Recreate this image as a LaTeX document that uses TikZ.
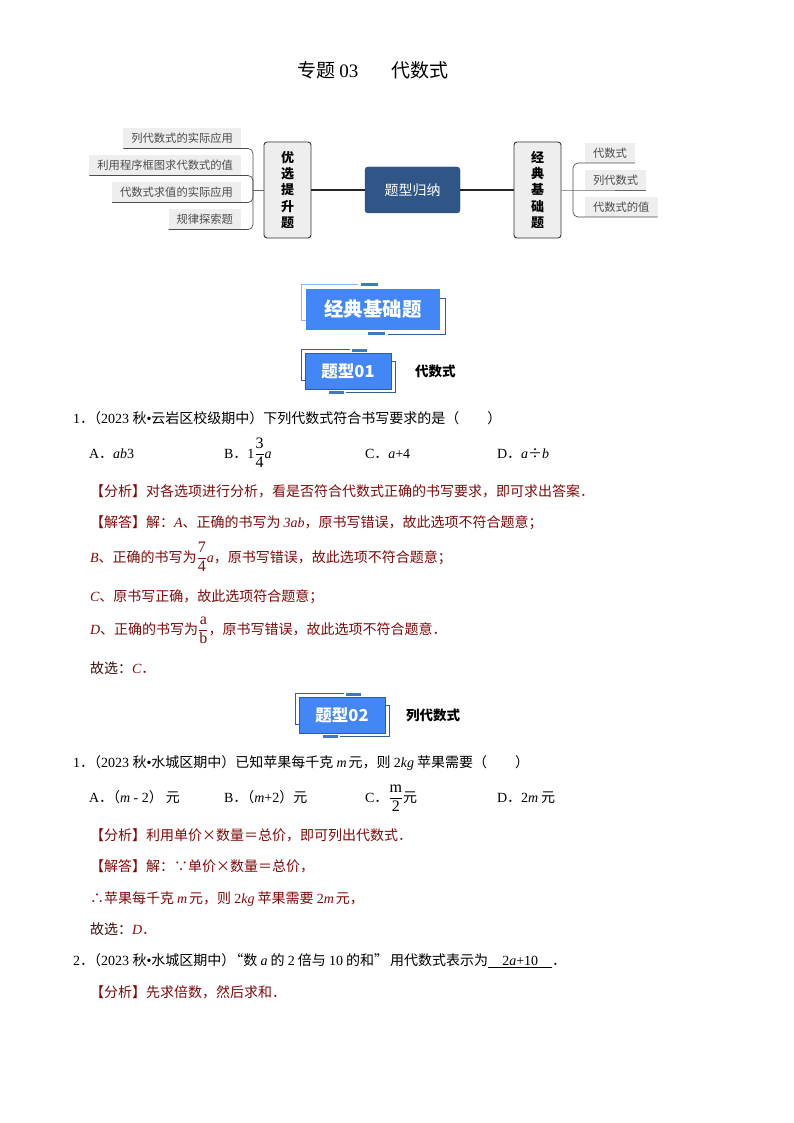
\documentclass[tikz,border=0pt]{standalone}
\usepackage{amsmath}
\usepackage[no-math]{fontspec}
\setmainfont{Noto Sans CJK SC}
\newfontfamily\latin{Liberation Serif}
\newcommand{\la}[1]{{\latin #1}}
\newcommand{\iv}[1]{{\latin\itshape #1}}
\newcommand{\fr}[2]{$\dfrac{\hbox{\fontsize{16}{18}\latin #1}}{\hbox{\fontsize{16}{18}\latin #2}}$}
\definecolor{ansred}{HTML}{7F0A0A}
\definecolor{ansdark}{HTML}{3A1010}
\definecolor{tagblue}{HTML}{4287F5}
\definecolor{bardark}{HTML}{3F78C8}
\definecolor{framedark}{HTML}{2F5F96}
\definecolor{framelight}{HTML}{8FB4E8}
\definecolor{hubblue}{HTML}{2F5687}
\definecolor{leafgray}{HTML}{EEEEEE}

\begin{document}
\begin{tikzpicture}[x=1pt, y=-1pt, outer sep=0pt]

\tikzstyle{leaf}=[fill=leafgray, text=black!70, inner xsep=8pt, inner ysep=0pt, minimum height=20pt, font=\fontsize{11.3}{13}\selectfont]
\tikzstyle{topic}=[draw=black!80, line width=0.9pt, fill=leafgray, rounded corners=3pt, minimum width=47pt, minimum height=96pt, align=center, font=\fontsize{13}{16.3}\selectfont\bfseries]
\tikzstyle{hub}=[draw=hubblue!80!black, fill=hubblue, rounded corners=3pt, minimum width=95pt, minimum height=46pt, text=white, font=\fontsize{14}{17}\selectfont]
\tikzstyle{branch}=[draw=black!70, line width=0.7pt, rounded corners=5pt]
\tikzstyle{tagbox}=[draw=framedark, line width=0.5pt, fill=tagblue, text=white, font=\fontsize{16.5}{20}\selectfont\bfseries]
\tikzstyle{frameA}=[draw=framedark, line width=0.7pt]
\tikzstyle{frameB}=[draw=framelight, line width=1pt]
\tikzstyle{bar}=[fill=bardark]
\tikzstyle{tagname}=[anchor=base west, inner sep=0pt, font=\fontsize{13.5}{16}\selectfont\bfseries]
\tikzstyle{ques}=[anchor=base west, inner sep=0pt, font=\fontsize{14}{17}\selectfont]
\tikzstyle{ans}=[ques, text=ansred]

\useasboundingbox (0,0) rectangle (794,1123);

\node[anchor=base west, inner sep=0pt, font=\fontsize{19}{23}\selectfont] (title) at (297,78) {专题 \la{03}\hspace{33pt}代数式};

% mind map
\node[hub] (hub) at (412.5,190) {题型归纳};
\node[topic] (upbox) at (287.5,190) {优\\选\\提\\升\\题};
\node[topic] (basebox) at (537.5,190) {经\\典\\基\\础\\题};
\draw[black!85, line width=1.1pt] (upbox) -- (hub); \draw[black!85, line width=1.1pt] (hub) -- (basebox);

\node[leaf, anchor=south east] (up1) at (241,148.5) {列代数式的实际应用};
\node[leaf, anchor=south east] (up2) at (241,175.5) {利用程序框图求代数式的值};
\node[leaf, anchor=south east] (up3) at (241,202.5) {代数式求值的实际应用};
\node[leaf, anchor=south east] (up4) at (241,229.5) {规律探索题};
\coordinate (upjoin) at (253,190);
\draw[branch] (up1.south west) -- (upjoin |- up1.south) -- (upjoin);
\draw[branch] (up2.south west) -- (upjoin |- up2.south) -- (upjoin);
\draw[branch] (up3.south west) -- (upjoin |- up3.south) -- (upjoin);
\draw[branch] (up4.south west) -- (upjoin |- up4.south) -- (upjoin);
\draw[black!60, line width=0.7pt] (upjoin) -- (upbox.west);

\node[leaf, anchor=south west] (base1) at (585,163) {代数式};
\node[leaf, anchor=south west] (base2) at (585,190) {列代数式};
\node[leaf, anchor=south west] (base3) at (585,217) {代数式的值};
\coordinate (basejoin) at (573,190);
\draw[branch] (base1.south east) -- (basejoin |- base1.south) -- (basejoin);
\draw[branch] (base3.south east) -- (basejoin |- base3.south) -- (basejoin);
\draw[black!60, line width=0.7pt] (basebox.east) -- (base2.south west) -- (base2.south east);

% big banner
\draw[frameB] (358,284) -- (301,284) -- (301,320) -- (306,320);
\draw[frameA] (388,334) -- (445,334) -- (445,298) -- (440,298);
\fill[bar] (361,283) rectangle (378,286); \fill[bar] (368,331.5) rectangle (385,334.5);
\node[tagbox, draw=none, minimum width=134pt, minimum height=41pt, font=\fontsize{19.4}{23}\selectfont\bfseries] (bigtag) at (373,309.5) {经典基础题};

% tag 01
\draw[frameA] (350,349) -- (301,349) -- (301,380) -- (305,380);
\draw[frameA] (346,392) -- (395,392) -- (395,361) -- (391,361);
\fill[bar] (352,349) rectangle (367,352); \fill[bar] (329,390.5) rectangle (344,393.5);
\node[tagbox, minimum width=86pt, minimum height=36pt] (tag1) at (348,371) {题型01};
\node[tagname] (tag1name) at (415,376) {代数式};

\node[ques] (q1) at (73,423) {\la{1}．\kern-7pt（\la{2023 }秋\la{•}云岩区校级期中）下列代数式符合书写要求的是（　　）};
\node[ques] (q1a) at (89,458) {\la{A}．\iv{ab}\la{3}}; \node[ques] (q1b) at (224,458) {\la{B}．\la{1}\fr{3}{4}\iv{a}};
\node[ques] (q1c) at (365,458) {\la{C}．\iv{a}\la{+4}}; \node[ques] (q1d) at (497,458) {\la{D}．\iv{a}÷\iv{b}};
\node[ans] (q1fx) at (90,496) {【分析】对各选项进行分析，看是否符合代数式正确的书写要求，即可求出答案．};
\node[ans] (q1jd) at (90,527) {【解答】解：\iv{A}、正确的书写为 \iv{3ab}，原书写错误，故此选项不符合题意；};
\node[ans] (q1l2) at (90,562) {\iv{B}、正确的书写为\fr{7}{4}\iv{a}，原书写错误，故此选项不符合题意；};
\node[ans] (q1l3) at (90,601) {\iv{C}、原书写正确，故此选项符合题意；};
\node[ans] (q1l4) at (90,634) {\iv{D}、正确的书写为\fr{a}{b}，原书写错误，故此选项不符合题意．};
\node[ans] (q1l5) at (90,673) {\textcolor{ansdark}{故选：}\iv{C}．};

% tag 02
\draw[frameA] (344,693) -- (295,693) -- (295,724) -- (299,724);
\draw[frameA] (340,736) -- (389,736) -- (389,705) -- (385,705);
\fill[bar] (346,693) rectangle (361,696); \fill[bar] (323,734.5) rectangle (338,737.5);
\node[tagbox, minimum width=86pt, minimum height=36pt] (tag2) at (342,715) {题型02};
\node[tagname] (tag2name) at (406,720) {列代数式};

\node[ques] (q2) at (73,767) {\la{1}．\kern-7pt（\la{2023 }秋\la{•}水城区期中）已知苹果每千克 \iv{m}\kern2pt 元，则 \la{2}\iv{kg} 苹果需要（　　）};
\node[ques] (q2a) at (89,802) {\la{A}．\kern-7pt（\iv{m}\la{ - 2}）\kern3pt 元}; \node[ques] (q2b) at (224,802) {\la{B}．\kern-7pt（\iv{m}\la{+2}）元};
\node[ques] (q2c) at (365,802) {\la{C}．\fr{m}{2}元}; \node[ques] (q2d) at (497,802) {\la{D}．\la{2}\iv{m}\kern3pt 元};
\node[ans] (q2fx) at (90,840) {【分析】利用单价×数量＝总价，即可列出代数式．};
\node[ans] (q2jd) at (90,871) {【解答】解：∵单价×数量＝总价，};
\node[ans] (q2l2) at (90,903) {∴苹果每千克 \iv{m}\kern2pt 元，则 \la{2}\iv{kg} 苹果需要 \la{2}\iv{m}\kern2pt 元，};
\node[ans] (q2l3) at (90,934) {\textcolor{ansdark}{故选：}\iv{D}．};

\node[ques] (q3) at (73,965) {\la{2}．\kern-7pt（\la{2023 }秋\la{•}水城区期中）\kern-6pt“数 \iv{a} 的 \la{2} 倍与 \la{10} 的和”\kern2pt 用代数式表示为\underline{\makebox[64pt]{\la{2\iv{a}+10}}}．};
\node[ans] (q3fx) at (90,997) {【分析】先求倍数，然后求和．};

\end{tikzpicture}
\end{document}
